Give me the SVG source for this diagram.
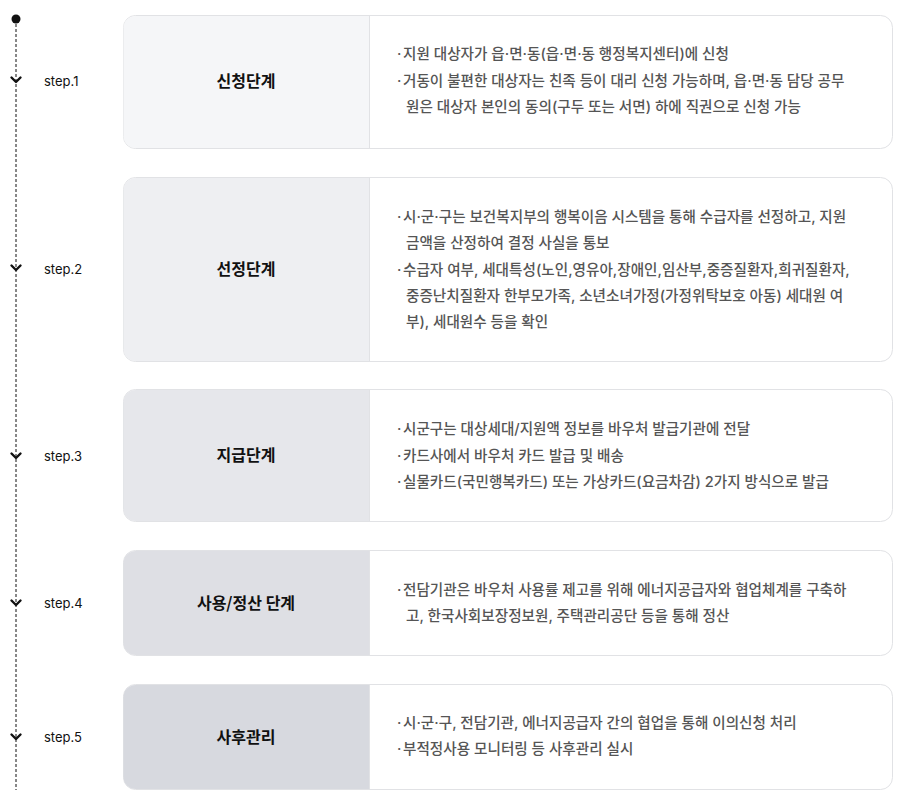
<svg xmlns="http://www.w3.org/2000/svg" width="910" height="804" viewBox="0 0 910 804">
<style>
.card{fill:#fff;stroke:#e1e2e5;stroke-width:1}
.div{stroke:#e1e2e5;stroke-width:1}
.title{font-family:"Noto Sans CJK KR","Noto Sans",sans-serif;font-size:16px;font-weight:700;fill:#111;text-anchor:middle}
.body{font-family:"Inter","Noto Sans CJK KR",sans-serif;font-size:14.6px;font-weight:500;fill:#555}
.step{font-family:"Inter","Liberation Sans",sans-serif;font-size:13px;fill:#111}
.chev{fill:none;stroke:#111;stroke-width:2.4;stroke-linecap:round;stroke-linejoin:round}
</style>
<rect width="910" height="804" fill="#fff"/>
<g id="timeline">
  <line x1="16" y1="19" x2="16" y2="790" stroke="#111" stroke-width="1" stroke-dasharray="3 2"/>
  <circle cx="16" cy="19" r="4.5" fill="#111"/>
  <path class="chev" d="M11.5 77.5 L16 82 L20.5 77.5"/>
  <path class="chev" d="M11.5 265.5 L16 270 L20.5 265.5"/>
  <path class="chev" d="M11.5 453.5 L16 458 L20.5 453.5"/>
  <path class="chev" d="M11.5 600.5 L16 605 L20.5 600.5"/>
  <path class="chev" d="M11.5 734.5 L16 739 L20.5 734.5"/>
  <text class="step" x="44" y="86">step.1</text>
  <text class="step" x="44" y="274">step.2</text>
  <text class="step" x="44" y="461">step.3</text>
  <text class="step" x="44" y="608">step.4</text>
  <text class="step" x="44" y="742">step.5</text>
</g>
<g id="step1">
  <rect class="card" x="123.5" y="15.5" width="769" height="133" rx="12"/>
  <path d="M135.5 16 H369 V148 H135.5 A12 12 0 0 1 123.5 136 V28 A12 12 0 0 1 135.5 16 Z" fill="#f5f6f8"/>
  <line class="div" x1="369.5" y1="16" x2="369.5" y2="148"/>
  <text class="title" x="246" y="87">신청단계</text>
  <text class="body" x="397" y="59">·</text>
  <text class="body" x="403" y="59">지원 대상자가 읍·면·동(읍·면·동 행정복지센터)에 신청</text>
  <text class="body" x="397" y="86">·</text>
  <text class="body" x="403" y="86">거동이 불편한 대상자는 친족 등이 대리 신청 가능하며, 읍·면·동 담당 공무</text>
  <text class="body" x="406" y="112">원은 대상자 본인의 동의(구두 또는 서면) 하에 직권으로 신청 가능</text>
</g>
<g id="step2">
  <rect class="card" x="123.5" y="177.5" width="769" height="184" rx="12"/>
  <path d="M135.5 178 H369 V361 H135.5 A12 12 0 0 1 123.5 349 V190 A12 12 0 0 1 135.5 178 Z" fill="#eeeff2"/>
  <line class="div" x1="369.5" y1="178" x2="369.5" y2="361"/>
  <text class="title" x="246" y="275">선정단계</text>
  <text class="body" x="397" y="222">·</text>
  <text class="body" x="403" y="222">시·군·구는 보건복지부의 행복이음 시스템을 통해 수급자를 선정하고, 지원</text>
  <text class="body" x="406" y="248">금액을 산정하여 결정 사실을 통보</text>
  <text class="body" x="397" y="275">·</text>
  <text class="body" x="403" y="275">수급자 여부, 세대특성(노인,영유아,장애인,임산부,중증질환자,희귀질환자,</text>
  <text class="body" x="406" y="301">중증난치질환자 한부모가족, 소년소녀가정(가정위탁보호 아동) 세대원 여</text>
  <text class="body" x="406" y="327">부), 세대원수 등을 확인</text>
</g>
<g id="step3">
  <rect class="card" x="123.5" y="389.5" width="769" height="132" rx="12"/>
  <path d="M135.5 390 H369 V521 H135.5 A12 12 0 0 1 123.5 509 V402 A12 12 0 0 1 135.5 390 Z" fill="#e6e7eb"/>
  <line class="div" x1="369.5" y1="390" x2="369.5" y2="521"/>
  <text class="title" x="246" y="461">지급단계</text>
  <text class="body" x="397" y="434">·</text>
  <text class="body" x="403" y="434">시군구는 대상세대/지원액 정보를 바우처 발급기관에 전달</text>
  <text class="body" x="397" y="461">·</text>
  <text class="body" x="403" y="461">카드사에서 바우처 카드 발급 및 배송</text>
  <text class="body" x="397" y="487">·</text>
  <text class="body" x="403" y="487">실물카드(국민행복카드) 또는 가상카드(요금차감) 2가지 방식으로 발급</text>
</g>
<g id="step4">
  <rect class="card" x="123.5" y="550.5" width="769" height="105" rx="12"/>
  <path d="M135.5 551 H369 V655 H135.5 A12 12 0 0 1 123.5 643 V563 A12 12 0 0 1 135.5 551 Z" fill="#dedfe4"/>
  <line class="div" x1="369.5" y1="551" x2="369.5" y2="655"/>
  <text class="title" x="246" y="609">사용/정산 단계</text>
  <text class="body" x="397" y="595">·</text>
  <text class="body" x="403" y="595">전담기관은 바우처 사용률 제고를 위해 에너지공급자와 협업체계를 구축하</text>
  <text class="body" x="406" y="621">고, 한국사회보장정보원, 주택관리공단 등을 통해 정산</text>
</g>
<g id="step5">
  <rect class="card" x="123.5" y="684.5" width="769" height="105" rx="12"/>
  <path d="M135.5 685 H369 V789 H135.5 A12 12 0 0 1 123.5 777 V697 A12 12 0 0 1 135.5 685 Z" fill="#d7d9df"/>
  <line class="div" x1="369.5" y1="685" x2="369.5" y2="789"/>
  <text class="title" x="246" y="743">사후관리</text>
  <text class="body" x="397" y="728">·</text>
  <text class="body" x="403" y="728">시·군·구, 전담기관, 에너지공급자 간의 협업을 통해 이의신청 처리</text>
  <text class="body" x="397" y="754">·</text>
  <text class="body" x="403" y="754">부적정사용 모니터링 등 사후관리 실시</text>
</g>
</svg>
